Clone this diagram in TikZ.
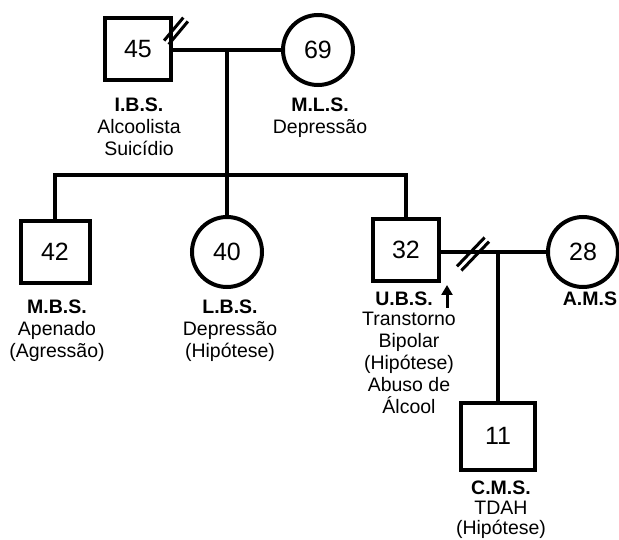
\documentclass[tikz,border=0pt]{standalone}
\usepackage{fontspec}
\setmainfont{Liberation Sans}
\usetikzlibrary{arrows.meta}
\begin{document}
\begin{tikzpicture}[x=1pt,y=-1pt,
  person/.style={draw=black,line width=4pt,inner sep=0pt,font=\fontsize{25}{29}\selectfont},
  male/.style={person,rectangle,minimum width=66pt,minimum height=62pt},
  female/.style={person,circle,minimum size=70pt},
  lbl/.style={anchor=north,inner sep=0pt,align=center,font=\fontsize{19.5}{22}\selectfont},
  link/.style={line width=4pt},
  slashmark/.style={line width=3pt},
  uparrow/.style={line width=3pt,-{Triangle[length=10pt,width=11pt]}},
]
\useasboundingbox (0,0) rectangle (619,540);

% persons
\node[male] (n45) at (138,49) {45};
\node[female] (n69) at (318,50) {69};
\node[male,minimum width=69pt] (n42) at (55,252) {42};
\node[female] (n40) at (227,252) {40};
\node[male] (n32) at (406,250) {32};
\node[female] (n28) at (583,252) {28};
\node[male,minimum width=74pt,minimum height=67pt] (n11) at (498,436) {11};

% connectors
\coordinate (m1) at (227,50);
\coordinate (sib) at (227,175);
\coordinate (m2) at (498,252);
\draw[link] (n45.east |- n69.west) -- (n69.west);
\draw[link] (m1) -- (n40.north);
\draw[link] (n42.north) |- (sib) -| (n32.north);
\draw[link] (n32.east |- n28.west) -- (n28.west);
\draw[link] (m2) -- (n11.north);

% separation marks
\draw[slashmark] (164.1,40.6) -- (183.3,17.6);
\draw[slashmark] (168.7,44.4) -- (187.9,21.4);
\draw[slashmark] (457,266.3) -- (484.6,237.5);
\draw[slashmark] (461.4,270.5) -- (489,241.7);

% index arrow
\coordinate (aS) at (447,308);
\coordinate (aT) at (447,285);
\draw[uparrow] (aS) -- (aT);

% labels
\node[lbl] (ibs) at (139,98) {\textbf{I.B.S.}\\Alcoolista\\Suicídio};
\node[lbl] (mls) at (320,98) {\textbf{M.L.S.}\\Depressão};
\node[lbl] (mbs) at (57,300) {\textbf{M.B.S.}\\Apenado\\(Agressão)};
\node[lbl] (lbs) at (230,300) {\textbf{L.B.S.}\\Depressão\\(Hipótese)};
\node[lbl] (ubs) at (404,292) {\textbf{U.B.S.}};
\node[lbl] (ubsd) at (409,312) {Transtorno\\Bipolar\\(Hipótese)\\Abuso de\\Álcool};
\node[lbl] (ams) at (590,292) {\textbf{A.M.S}};
\node[lbl,font=\fontsize{19.5}{20}\selectfont] (cms) at (501,481) {\textbf{C.M.S.}\\TDAH\\(Hipótese)};
\end{tikzpicture}
\end{document}
